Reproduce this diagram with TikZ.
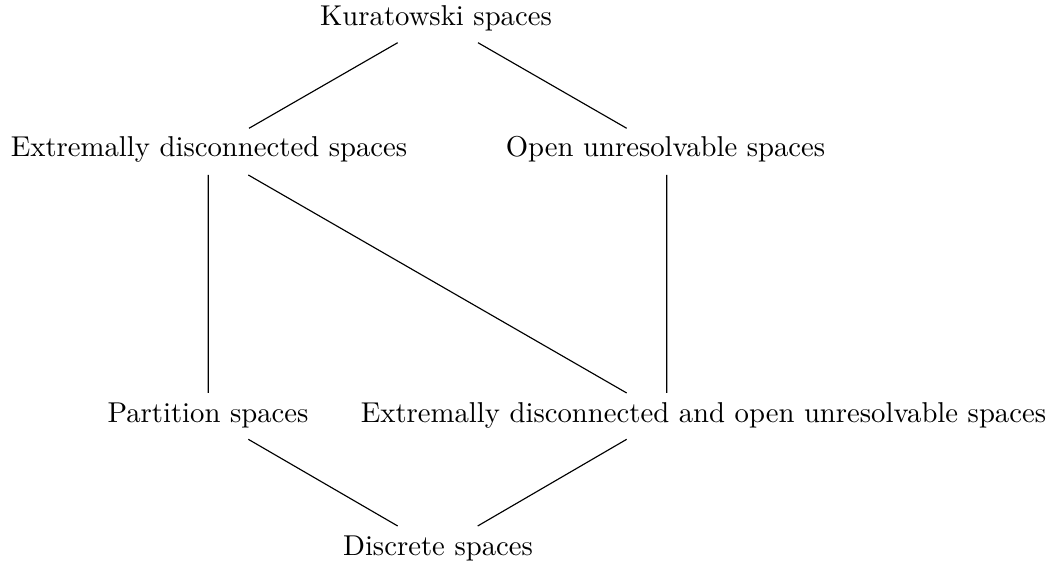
\documentclass[tikz,border=0pt]{standalone}
\begin{document}
\begin{tikzpicture}[x=0.3484pt,y=-0.3484pt,
  lbl/.style={inner sep=0pt,anchor=base},
  edge/.style={line width=0.4pt}]
\useasboundingbox (0,0) rectangle (1057,565);
\node[lbl] (k) at (436,26) {Kuratowski spaces};
\node[lbl] (eds) at (209,156.7) {Extremally disconnected spaces};
\node[lbl] (ous) at (665.5,156.7) {Open unresolvable spaces};
\node[lbl] (ps) at (208,423) {Partition spaces};
\node[lbl] (edou) at (703.5,423) {Extremally disconnected and open unresolvable spaces};
\node[lbl] (ds) at (438,556) {Discrete spaces};
\draw[edge] ([shift={(-38.3,16.7)}]k.base) -- ([shift={(40,-28.4)}]eds.base);
\draw[edge] ([shift={(42,16.7)}]k.base) -- ([shift={(-38.8,-28.4)}]ous.base);
\draw[edge] ([shift={(-0.7,18.3)}]eds.base) -- ([shift={(0.3,-30)}]ps.base);
\draw[edge] ([shift={(39.3,18.3)}]eds.base) -- ([shift={(-76.8,-30)}]edou.base);
\draw[edge] ([shift={(1.2,18.3)}]ous.base) -- ([shift={(-36.8,-30)}]edou.base);
\draw[edge] ([shift={(40.3,16.3)}]ps.base) -- ([shift={(-40.3,-30)}]ds.base);
\draw[edge] ([shift={(-76.8,16.3)}]edou.base) -- ([shift={(39.7,-30)}]ds.base);
\end{tikzpicture}
\end{document}
